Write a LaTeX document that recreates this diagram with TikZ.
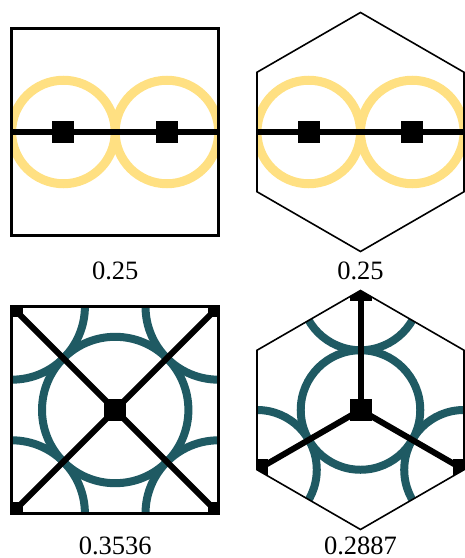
\documentclass[tikz,border=0pt]{standalone}
\usepackage{fontspec}
\setmainfont{Liberation Serif}
\usetikzlibrary{positioning}

\definecolor{sunny}{HTML}{FFE082}
\definecolor{deepteal}{HTML}{1F5A63}

\begin{document}
\begin{tikzpicture}[
    x=1pt, y=1pt,
    cell/.style={draw, line width=3pt},
    hexcell/.style={draw, line width=1.6pt},
    bond/.style={line width=6pt},
    ring/.style={draw=sunny, line width=9pt},
    tring/.style={draw=deepteal, line width=8pt},
    site/.style={rectangle, fill=black, minimum size=22pt, inner sep=0pt},
    caption/.style={font=\fontsize{26.5}{30}\selectfont, anchor=base, inner sep=0pt}
]
\useasboundingbox (0,0) rectangle (465,558);

% Square, two rings
\begin{scope}[shift={(115.2,426)}]
    \coordinate (sqL) at (-103.5,0);
    \coordinate (sqR) at (103.5,0);
    \begin{scope}
        \clip (-103.5,-103.5) rectangle (103.5,103.5);
        \draw[ring] (-51.75,0) circle (51.75);
        \draw[ring] (51.75,0) circle (51.75);
        \draw[bond] (sqL) -- (sqR);
        \node[site] (sqA) at (-51.75,0) {};
        \node[site] (sqB) at (51.75,0) {};
    \end{scope}
    \draw[cell] (-103.5,-103.5) rectangle (103.5,103.5);
    \node[caption] (capA) at (0,-148) {0.25};
\end{scope}

% Hexagon, two rings
\begin{scope}[shift={(360.5,426)}]
    \coordinate (hxL) at (180:103.5);
    \coordinate (hxR) at (0:103.5);
    \begin{scope}
        \clip (30:119.5) -- (90:119.5) -- (150:119.5) -- (210:119.5) -- (270:119.5) -- (330:119.5) -- cycle;
        \draw[ring] (-51.75,0) circle (51.75);
        \draw[ring] (51.75,0) circle (51.75);
        \draw[bond] (hxL) -- (hxR);
        \node[site] (hxA) at (-51.75,0) {};
        \node[site] (hxB) at (51.75,0) {};
    \end{scope}
    \draw[hexcell] (30:119.5) -- (90:119.5) -- (150:119.5) -- (210:119.5) -- (270:119.5) -- (330:119.5) -- cycle;
    \node[caption] (capB) at (0,-148) {0.25};
\end{scope}

% Square, centre and corners
\begin{scope}[shift={(115.2,148)}]
    \coordinate (bcC) at (0,0);
    \coordinate (bc1) at (-103.5,103.5);
    \coordinate (bc2) at (103.5,103.5);
    \coordinate (bc3) at (103.5,-103.5);
    \coordinate (bc4) at (-103.5,-103.5);
    \begin{scope}
        \clip (bc1) rectangle (bc3);
        \foreach \p in {bcC,bc1,bc2,bc3,bc4}
            \draw[tring] (\p) circle (73.2);
        \draw[bond] (bc1) -- (bc3);
        \draw[bond] (bc2) -- (bc4);
        \foreach \p in {bcC,bc1,bc2,bc3,bc4}
            \node[site] at (\p) {};
    \end{scope}
    \draw[cell] (bc1) rectangle (bc3);
    \node[caption] (capC) at (0,-144.8) {0.3536};
\end{scope}

% Hexagon, centre and three corners
\begin{scope}[shift={(360.5,148)}]
    \coordinate (hcC) at (0,0);
    \coordinate (hc1) at (90:119.5);
    \coordinate (hc2) at (210:119.5);
    \coordinate (hc3) at (330:119.5);
    \begin{scope}
        \clip (30:119.5) -- (90:119.5) -- (150:119.5) -- (210:119.5) -- (270:119.5) -- (330:119.5) -- cycle;
        \foreach \p in {hcC,hc1,hc2,hc3}
            \draw[tring] (\p) circle (59.76);
        \foreach \p in {hc1,hc2,hc3}
            \draw[bond] (hcC) -- (\p);
        \foreach \p in {hcC,hc1,hc2,hc3}
            \node[site] at (\p) {};
    \end{scope}
    \draw[hexcell] (30:119.5) -- (90:119.5) -- (150:119.5) -- (210:119.5) -- (270:119.5) -- (330:119.5) -- cycle;
    \node[caption] (capD) at (0,-144.8) {0.2887};
\end{scope}

\end{tikzpicture}
\end{document}
